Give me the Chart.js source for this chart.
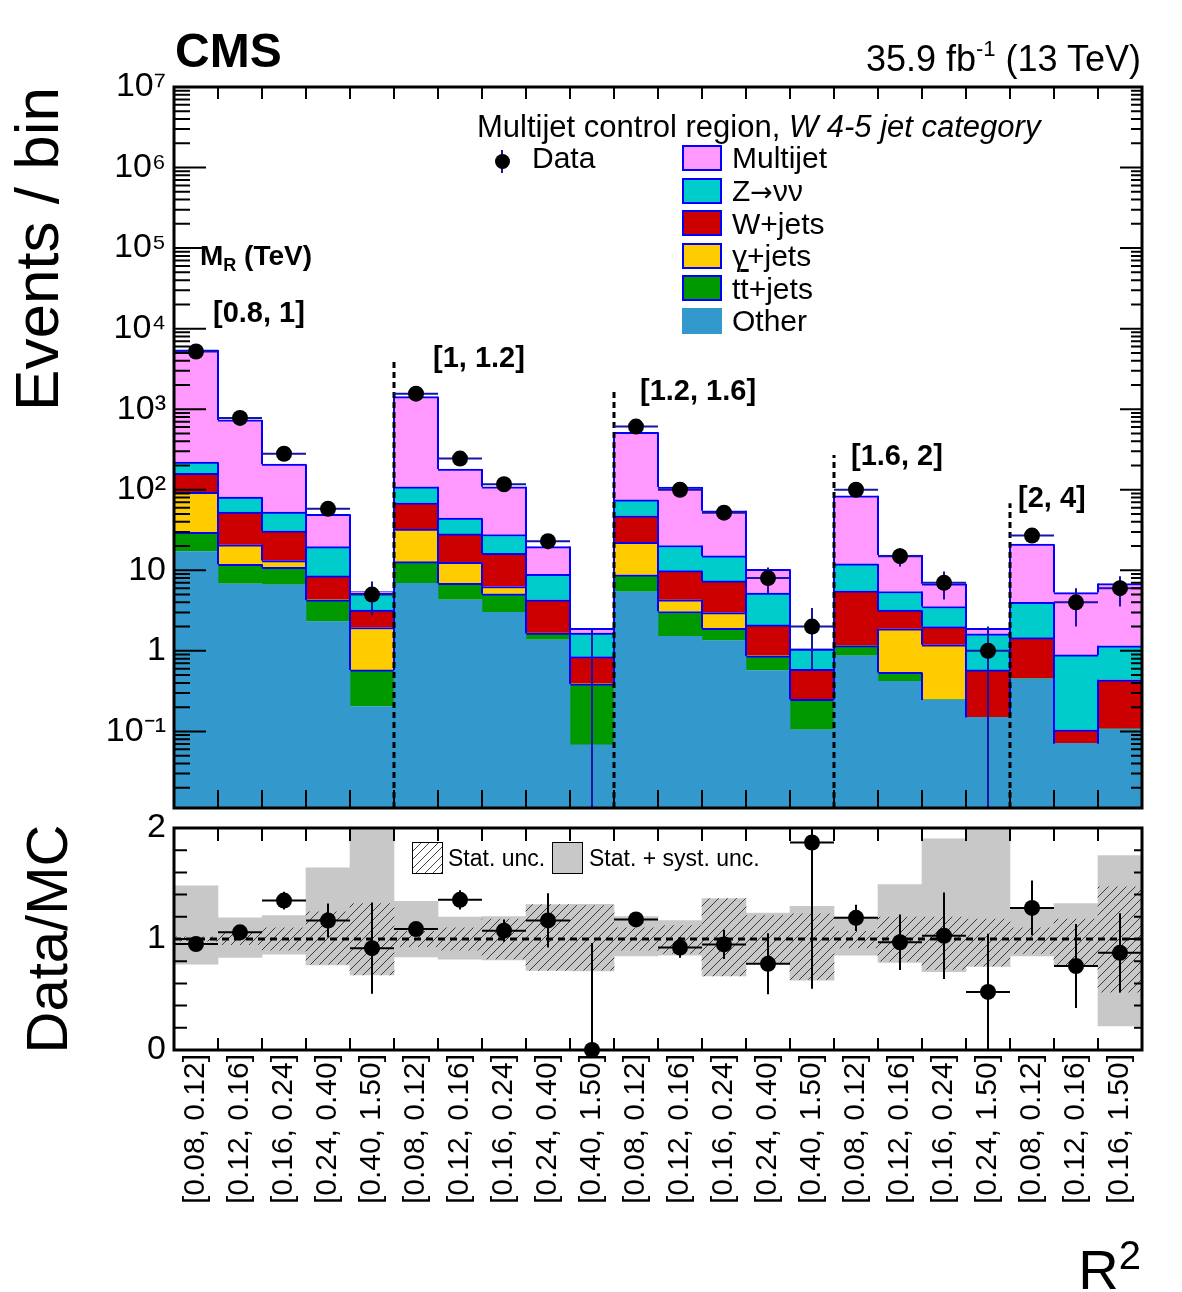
<!DOCTYPE html>
<html>
<head>
<meta charset="utf-8">
<title>CMS multijet control region, W 4-5 jet category</title>
<script src="https://cdn.jsdelivr.net/npm/chart.js@4.4.1/dist/chart.umd.min.js"></script>
<style>
html,body{margin:0;padding:0;background:#fff;}
body{width:1182px;height:1292px;position:relative;overflow:hidden;font-family:"Liberation Sans",Arial,Helvetica,sans-serif;color:#000;}
canvas{position:absolute;left:0;}
.t{position:absolute;white-space:nowrap;line-height:1;}
.b{font-weight:bold;}
.box{position:absolute;box-sizing:border-box;}
.sym{font-family:"DejaVu Sans",sans-serif;font-size:27px;}
</style>
</head>
<body>
<canvas id="main" width="1182" height="860" style="top:0"></canvas>
<canvas id="ratio" width="1182" height="512" style="top:780px"></canvas>

<div class="t b" style="left:175px;top:27px;font-size:48px">CMS</div>
<div class="t" style="right:41px;top:41px;font-size:36px">35.9 fb<span style="font-size:22px;position:relative;top:-15px">-1</span> (13 TeV)</div>
<div class="t" style="left:477px;top:111px;font-size:31px">Multijet control region, <i>W 4-5 jet category</i></div>
<div id="legend"></div>

<div class="t b" style="left:200px;top:242px;font-size:28px">M<span style="font-size:18px;position:relative;top:6px">R</span> (TeV)</div>
<div id="regions"></div>

<div class="box" style="left:412px;top:842px;width:31px;height:32px;border:1.5px solid #000;background:#fff repeating-linear-gradient(135deg,#fff 0 5px,#444 5px 6px)"></div>
<div class="t" style="left:448px;top:847px;font-size:23px">Stat. unc.</div>
<div class="box" style="left:552px;top:842px;width:31px;height:32px;border:1.5px solid #000;background:#c8c8c8"></div>
<div class="t" style="left:589px;top:847px;font-size:23px">Stat. + syst. unc.</div>

<div class="t" style="right:41px;top:1242px;font-size:56px">R<span style="font-size:40px;position:relative;top:-20px">2</span></div>

<script>
// ---------------- data ----------------
const categories = [
  '[0.08, 0.12]','[0.12, 0.16]','[0.16, 0.24]','[0.24, 0.40]','[0.40, 1.50]',
  '[0.08, 0.12]','[0.12, 0.16]','[0.16, 0.24]','[0.24, 0.40]','[0.40, 1.50]',
  '[0.08, 0.12]','[0.12, 0.16]','[0.16, 0.24]','[0.24, 0.40]','[0.40, 1.50]',
  '[0.08, 0.12]','[0.12, 0.16]','[0.16, 0.24]','[0.24, 1.50]',
  '[0.08, 0.12]','[0.12, 0.16]','[0.16, 1.50]'
];
const mrRegions = ['[0.8, 1]','[1, 1.2]','[1.2, 1.6]','[1.6, 2]','[2, 4]'];

const other    = [17.1, 6.8, 6.6, 2.31, 0.204, 6.9, 4.3, 3.0, 1.37, 0.068, 5.4, 1.51, 1.34, 0.57, 0.105, 0.87, 0.42, 0.246, 0.150, 0.449, 0.071, 0.107];
const ttjets   = [12.6, 5.1, 4.3, 2.0, 0.376, 5.9, 2.6, 2.1, 0.29, 0.322, 3.4, 1.57, 0.57, 0.30, 0.145, 0.29, 0.12, 0, 0, 0, 0, 0];
const gjets    = [63.3, 8.8, 2.3, 0, 1.37, 19.6, 5.7, 1.2, 0, 0, 13.5, 1.22, 1.08, 0, 0, 0, 1.34, 0.944, 0, 0, 0, 0];
const wjets    = [67, 32, 17.7, 4.2, 1.25, 36.6, 15.7, 10.0, 2.64, 0.46, 25.1, 5.6, 4.4, 1.23, 0.34, 4.4, 1.32, 0.81, 0.43, 1.01, 0.034, 0.33];
const zvv      = [60, 28.3, 22.1, 11.2, 2.0, 40, 16.1, 11.5, 4.6, 0.81, 27.4, 10.4, 7.7, 3.1, 0.46, 6.44, 2.25, 1.55, 1.05, 2.54, 0.785, 0.72];
const multijet = [5230, 655, 155, 30, 0.25, 1323, 136, 81, 10.8, 0.25, 443, 88, 39.6, 5.1, 0.02, 72, 10, 3.25, 0.28, 17.1, 4.4, 5.7];

const observed    = [5200, 780, 280, 58, 5, 1560, 244, 117, 23, 0, 609, 100, 52, 8, 2, 100, 15, 7, 1, 27, 4, 6];
const observedErr = [72, 28, 16.7, 7.6, 2.24, 39.5, 15.6, 10.8, 4.8, 1.84, 24.7, 10, 7.2, 2.83, 1.41, 10, 3.87, 2.65, 1, 5.2, 2, 2.45];

const systUp   = [1.479, 1.191, 1.212, 1.642, 2.3, 1.339, 1.197, 1.203, 1.309, 1.312, 1.203, 1.167, 1.364, 1.233, 1.294, 1.197, 1.491, 1.903, 2.3, 1.273, 1.318, 1.751];
const systDown = [0.773, 0.833, 0.864, 0.767, 0.676, 0.839, 0.818, 0.812, 0.718, 0.712, 0.848, 0.855, 0.667, 0.782, 0.630, 0.855, 0.788, 0.706, 0.752, 0.848, 0.758, 0.218];
const statUp   = [1.02, 1.06, 1.10, 1.245, 1.318, 1.07, 1.10, 1.18, 1.309, 1.30, 1.10, 1.12, 1.364, 1.21, 1.227, 1.07, 1.197, 1.197, 1.18, 1.10, 1.18, 1.47];
const statDown = [0.98, 0.95, 0.90, 0.773, 0.676, 0.93, 0.90, 0.82, 0.718, 0.72, 0.90, 0.87, 0.667, 0.79, 0.636, 0.92, 0.80, 0.727, 0.755, 0.87, 0.758, 0.52];

const yTickExponents = [-1, 0, 1, 2, 3, 4, 5, 6, 7];
const yTickLabels    = ['10\u207B\u00B9', '1', '10', '10\u00B2', '10\u00B3', '10\u2074', '10\u2075', '10\u2076', '10\u2077'];
const ratioTickLabels = ['0', '1', '2'];

const separatorAfterBin = [4, 9, 14, 18];
const separatorTop      = [4300, 1750, 270, 68];

// ---------------- styles ----------------
const BLUE = '#0000ff';
const DATA_LINE = '#1515a8';
const HIST_FLOOR = 1e-3;   // below the axis minimum: the bottom histogram starts off-scale
const stack = [
  {name:'Other',    values: other,    color:'#3399cc', outline:false},
  {name:'t<span style="text-decoration:overline">t</span>+jets', values: ttjets, color:'#009900', outline:true},
  {name:'\u03B3+jets', values: gjets, color:'#ffcc00', outline:true},
  {name:'W+jets',   values: wjets,    color:'#cc0000', outline:true},
  {name:'Z<span class="sym">\u2192</span>\u03BD\u03BD', values: zvv, color:'#00cccc', outline:true},
  {name:'Multijet', values: multijet, color:'#ff99ff', outline:true}
];

let run = other.map(() => 0);
const cumul = [];
stack.forEach(s => {
  s.lo = run.map(v => v > 0 ? v : HIST_FLOOR);
  run = run.map((r, i) => r + s.values[i]);
  s.hi = run.slice();
  cumul.push(run.slice());
});
const total = run;
const ratio = observed.map((v, i) => v / total[i]);
const ratioErr = observedErr.map((e, i) => e / total[i]);

// ---------------- HTML legend / labels ----------------
(function(){
  const lg = document.getElementById('legend');
  let h = '<div class="box" style="left:501px;top:150px;width:2px;height:23px;background:' + DATA_LINE + '"></div>' +
          '<div class="box" style="left:495px;top:154px;width:15px;height:15px;border-radius:50%;background:#000"></div>' +
          '<div class="t" style="left:532px;top:143px;font-size:30px">Data</div>';
  const order = stack.slice().reverse();
  order.forEach((s, j) => {
    const cy = 158 + j * 32.6;
    h += '<div class="box" style="left:682px;top:' + (cy - 13) + 'px;width:40px;height:26px;background:' + s.color +
         ';border:' + (s.outline ? '2px solid ' + BLUE : '0') + '"></div>';
    h += '<div class="t" style="left:732px;top:' + (cy - 14.6) + 'px;font-size:30px">' + s.name + '</div>';
  });
  lg.innerHTML = h;
  const rp = [[213, 298], [433, 343], [640, 376], [851, 441], [1018, 483]];
  document.getElementById('regions').innerHTML = mrRegions.map((t, i) =>
    '<div class="t b" style="left:' + rp[i][0] + 'px;top:' + rp[i][1] + 'px;font-size:29px">' + t + '</div>').join('');
})();

// ---------------- helpers ----------------
Chart.defaults.font.family = '"Liberation Sans", Arial, Helvetica, sans-serif';
Chart.defaults.color = '#000';

function edgeX(x, i) { return x.getPixelForValue(i - 0.5); }

function drawFrame(chart, cfg) {
  const {ctx, chartArea: a, scales: {x, y}} = chart;
  ctx.save();
  ctx.strokeStyle = '#000';
  ctx.lineWidth = 2;
  ctx.beginPath();
  for (let i = 1; i < categories.length; i++) {
    const px = edgeX(x, i);
    ctx.moveTo(px, a.bottom); ctx.lineTo(px, a.bottom - cfg.xBottom);
    ctx.moveTo(px, a.top); ctx.lineTo(px, a.top + cfg.xTop);
  }
  cfg.yTicks.forEach(t => {
    const py = y.getPixelForValue(t.v);
    if (py < a.top - 0.5 || py > a.bottom + 0.5) return;
    ctx.moveTo(a.left, py); ctx.lineTo(a.left + (t.major ? cfg.yLeftMajor : cfg.yLeftMinor), py);
    ctx.moveTo(a.right, py); ctx.lineTo(a.right - (t.major ? cfg.yRightMajor : cfg.yRightMinor), py);
  });
  ctx.stroke();
  ctx.lineWidth = 3;
  ctx.strokeRect(a.left, a.top, a.right - a.left, a.bottom - a.top);
  ctx.restore();
}

const logTicks = [];
for (let k = -2; k <= 6; k++) {
  for (let m = 1; m <= 9; m++) logTicks.push({v: m * Math.pow(10, k), major: m === 1});
}
logTicks.push({v: 1e7, major: true});

const ratioTicks = [];
for (let k = 1; k < 10; k++) ratioTicks.push({v: k * 0.2, major: k === 5});

// ---------------- upper panel ----------------
const upperOverlay = {
  id: 'upperOverlay',
  beforeDatasetDraw(chart, args) {
    if (args.meta.type !== 'line') return;
    const {ctx, chartArea: a, scales: {x, y}} = chart;
    ctx.save();
    ctx.beginPath(); ctx.rect(a.left, a.top, a.right - a.left, a.bottom - a.top); ctx.clip();
    // histogram step outlines (vertical parts)
    ctx.strokeStyle = BLUE; ctx.lineWidth = 2;
    for (let k = 1; k < cumul.length; k++) {
      const c = cumul[k];
      ctx.beginPath();
      for (let i = 0; i < c.length - 1; i++) {
        const px = edgeX(x, i + 1);
        ctx.moveTo(px, y.getPixelForValue(c[i]));
        ctx.lineTo(px, y.getPixelForValue(c[i + 1]));
      }
      ctx.stroke();
    }
    // MR region separators
    ctx.strokeStyle = '#000'; ctx.lineWidth = 3; ctx.setLineDash([6, 4]);
    separatorAfterBin.forEach((b, j) => {
      const px = edgeX(x, b + 1);
      ctx.beginPath(); ctx.moveTo(px, a.bottom); ctx.lineTo(px, y.getPixelForValue(separatorTop[j])); ctx.stroke();
    });
    ctx.setLineDash([]);
    // data error bars
    ctx.strokeStyle = DATA_LINE; ctx.lineWidth = 2;
    observed.forEach((v, i) => {
      const cx = x.getPixelForValue(i);
      const lo = v - observedErr[i], hi = v + observedErr[i];
      ctx.beginPath();
      ctx.moveTo(cx, lo > 0 ? y.getPixelForValue(lo) : a.bottom);
      ctx.lineTo(cx, y.getPixelForValue(hi));
      if (v > 0) {
        const yv = y.getPixelForValue(v);
        ctx.moveTo(edgeX(x, i), yv); ctx.lineTo(edgeX(x, i + 1), yv);
      }
      ctx.stroke();
    });
    ctx.restore();
  },
  afterDraw(chart) {
    drawFrame(chart, {xBottom: 18, xTop: 12, yTicks: logTicks, yLeftMajor: 32, yLeftMinor: 16, yRightMajor: 22, yRightMinor: 11});
  }
};

new Chart(document.getElementById('main'), {
  type: 'bar',
  data: {
    labels: categories,
    datasets: [
      {type: 'line', label: 'Data', data: observed.map(v => v > 0 ? v : null), showLine: false,
       pointRadius: 8, pointHoverRadius: 8, pointBackgroundColor: '#000', pointBorderColor: '#000', pointBorderWidth: 0, order: 0}
    ].concat(stack.map(s => ({
      type: 'bar', label: s.name, data: s.lo.map((l, i) => [l, s.hi[i]]),
      backgroundColor: s.color, borderColor: BLUE,
      borderWidth: s.outline ? {top: 2, left: 0, right: 0, bottom: 0} : 0,
      borderSkipped: 'start', grouped: false, barPercentage: 1, categoryPercentage: 1, order: 1
    })))
  },
  options: {
    responsive: false, animation: false, events: [],
    layout: {padding: {left: 0, right: 40, top: 87, bottom: 52}},
    plugins: {legend: {display: false}, tooltip: {enabled: false}},
    scales: {
      x: {type: 'category', display: false, offset: true, grid: {display: false}},
      y: {
        type: 'logarithmic', min: 0.0112, max: 1e7,
        afterFit(s) { s.width = 174; },
        grid: {display: false, drawTicks: false}, border: {display: false},
        ticks: {
          autoSkip: false, padding: 8, color: '#000', font: {size: 34},
          callback(v) {
            const e = Math.log10(v), r = Math.round(e);
            if (Math.abs(e - r) > 1e-6) return '';
            const j = yTickExponents.indexOf(r);
            return j >= 0 ? yTickLabels[j] : '';
          }
        },
        title: {display: true, text: 'Events / bin', align: 'end', color: '#000', font: {size: 62}, padding: {top: 4, bottom: 0}}
      }
    }
  },
  plugins: [upperOverlay]
});

// ---------------- ratio panel ----------------
function hatchPattern() {
  const c = document.createElement('canvas'); c.width = 9; c.height = 9;
  const g = c.getContext('2d');
  g.strokeStyle = '#3c3c3c'; g.lineWidth = 1;
  g.beginPath();
  g.moveTo(0, 9); g.lineTo(9, 0);
  g.moveTo(-1, 1); g.lineTo(1, -1);
  g.moveTo(8, 10); g.lineTo(10, 8);
  g.stroke();
  return g.createPattern(c, 'repeat');
}

const ratioOverlay = {
  id: 'ratioOverlay',
  beforeDatasetDraw(chart, args) {
    if (args.meta.type !== 'line') return;
    const {ctx, chartArea: a, scales: {x, y}} = chart;
    ctx.save();
    ctx.beginPath(); ctx.rect(a.left, a.top, a.right - a.left, a.bottom - a.top); ctx.clip();
    ctx.strokeStyle = '#000'; ctx.lineWidth = 3; ctx.setLineDash([7, 5]);
    const y1 = y.getPixelForValue(1);
    ctx.beginPath(); ctx.moveTo(a.left, y1); ctx.lineTo(a.right, y1); ctx.stroke();
    ctx.setLineDash([]);
    ctx.lineWidth = 2;
    ratio.forEach((r, i) => {
      const cx = x.getPixelForValue(i);
      ctx.beginPath();
      ctx.moveTo(cx, y.getPixelForValue(Math.max(0, r - ratioErr[i])));
      ctx.lineTo(cx, y.getPixelForValue(r + ratioErr[i]));
      const yv = y.getPixelForValue(r);
      ctx.moveTo(edgeX(x, i), yv); ctx.lineTo(edgeX(x, i + 1), yv);
      ctx.stroke();
    });
    ctx.restore();
  },
  afterDraw(chart) {
    drawFrame(chart, {xBottom: 12, xTop: 13, yTicks: ratioTicks, yLeftMajor: 26, yLeftMinor: 13, yRightMajor: 16, yRightMinor: 8});
  }
};

new Chart(document.getElementById('ratio'), {
  type: 'bar',
  data: {
    labels: categories,
    datasets: [
      {type: 'line', label: 'Data/MC', data: ratio, showLine: false, clip: false,
       pointRadius: 8, pointHoverRadius: 8, pointBackgroundColor: '#000', pointBorderColor: '#000', pointBorderWidth: 0, order: 0},
      {type: 'bar', label: 'Stat. unc.', data: statDown.map((d, i) => [d, statUp[i]]), backgroundColor: hatchPattern(),
       borderWidth: 0, grouped: false, barPercentage: 1, categoryPercentage: 1, order: 2},
      {type: 'bar', label: 'Stat. + syst. unc.', data: systDown.map((d, i) => [d, systUp[i]]), backgroundColor: '#c8c8c8',
       borderWidth: 0, grouped: false, barPercentage: 1, categoryPercentage: 1, order: 3}
    ]
  },
  options: {
    responsive: false, animation: false, events: [],
    layout: {padding: {left: 0, right: 40, top: 48, bottom: 0}},
    plugins: {legend: {display: false}, tooltip: {enabled: false}},
    scales: {
      x: {
        type: 'category', offset: true,
        afterFit(s) { s.height = 242; },
        grid: {display: false, drawTicks: false}, border: {display: false},
        ticks: {autoSkip: false, minRotation: 90, maxRotation: 90, padding: 4, color: '#000', font: {size: 30}}
      },
      y: {
        type: 'linear', min: 0, max: 2,
        afterFit(s) { s.width = 174; },
        grid: {display: false, drawTicks: false}, border: {display: false},
        ticks: {stepSize: 1, padding: 8, color: '#000', font: {size: 34},
                callback(v) { const j = Math.round(v); return Math.abs(v - j) < 1e-6 ? ratioTickLabels[j] : ''; }},
        title: {display: true, text: 'Data/MC', color: '#000', font: {size: 58}, padding: {top: 16, bottom: 0}}
      }
    }
  },
  plugins: [ratioOverlay]
});
</script>
</body>
</html>
